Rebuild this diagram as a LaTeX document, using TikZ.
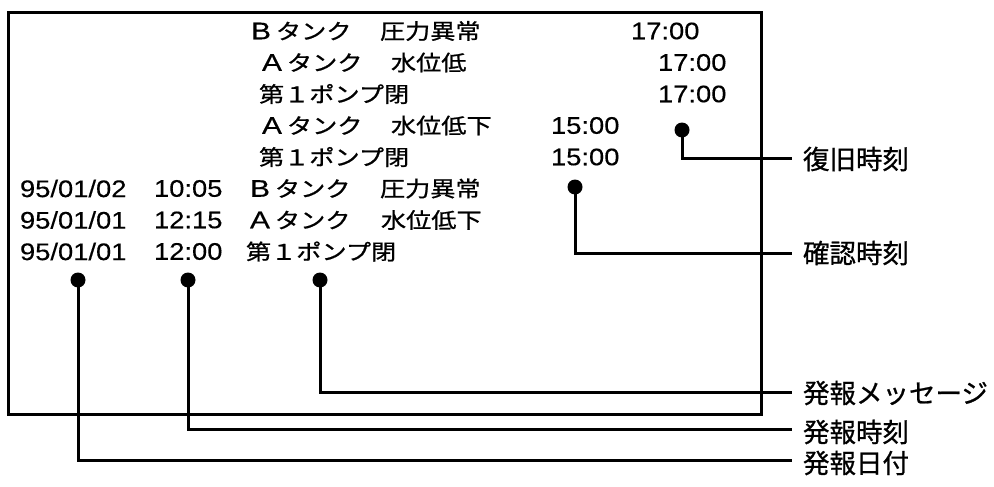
\documentclass[tikz,border=0pt]{standalone}
\usepackage{fontspec}
\usepackage{graphicx}
\newfontfamily\jboxfont[FakeBold=0.8]{Noto Sans CJK JP}
\newfontfamily\jlabfont[FakeBold=0.8]{Noto Sans CJK JP}
\newfontfamily\numfont[FakeBold=0.25]{Liberation Sans}
\newcommand\BJ[1]{\scalebox{1.17}[1]{\fontsize{21.5}{25}\jboxfont #1}}
\newcommand\BN[1]{\scalebox{1.14}[1]{\fontsize{24}{28}\numfont #1}}
\newcommand\BL[1]{\scalebox{1.25}[1]{\fontsize{24}{28}\numfont #1}}
\newcommand\LJ[1]{{\fontsize{26.5}{30}\jlabfont #1}}
\begin{document}
\begin{tikzpicture}[x=1pt,y=-1pt,
  txt/.style={inner sep=0pt,outer sep=0pt,anchor=west},
  ctxt/.style={inner sep=0pt,outer sep=0pt,anchor=center},
  dotmark/.style={circle,fill=black,inner sep=0pt,outer sep=0pt,minimum size=15pt},
  lead/.style={line width=3pt},
  lab/.style={inner sep=0pt,outer sep=0pt,anchor=west}]
\useasboundingbox (0,0) rectangle (994,487);
\node[draw,line width=3pt,inner sep=0pt,outer sep=0pt,anchor=north west,
  minimum width=752.5pt,minimum height=401.5pt] (screen) at (8.5,12.5) {};
% row 1
\node[ctxt] (r1a) at (261,31) {\BL{B}};
\node[txt] (r1b) at (276,31) {\BJ{タンク}};
\node[txt] (r1c) at (380,31) {\BJ{圧力異常}};
\node[txt] (r1d) at (631,31) {\BN{17:00}};
% row 2
\node[ctxt] (r2a) at (272,62.5) {\BL{A}};
\node[txt] (r2b) at (287,62.5) {\BJ{タンク}};
\node[txt] (r2c) at (391,62.5) {\BJ{水位低}};
\node[txt] (r2d) at (658,62.5) {\BN{17:00}};
% row 3
\node[txt] (r3a) at (259,94) {\BJ{第１ポンプ閉}};
\node[txt] (r3d) at (658,94) {\BN{17:00}};
% row 4
\node[ctxt] (r4a) at (272,125.5) {\BL{A}};
\node[txt] (r4b) at (287,125.5) {\BJ{タンク}};
\node[txt] (r4c) at (391,125.5) {\BJ{水位低下}};
\node[txt] (r4d) at (551,125.5) {\BN{15:00}};
% row 5
\node[txt] (r5a) at (259,157) {\BJ{第１ポンプ閉}};
\node[txt] (r5d) at (551,157) {\BN{15:00}};
% row 6
\node[txt] (r6x) at (20,188.5) {\BN{95/01/02}};
\node[txt] (r6y) at (154,188.5) {\BN{10:05}};
\node[ctxt] (r6a) at (260,188.5) {\BL{B}};
\node[txt] (r6b) at (275,188.5) {\BJ{タンク}};
\node[txt] (r6c) at (380,188.5) {\BJ{圧力異常}};
% row 7
\node[txt] (r7x) at (20,220) {\BN{95/01/01}};
\node[txt] (r7y) at (154,220) {\BN{12:15}};
\node[ctxt] (r7a) at (260,220) {\BL{A}};
\node[txt] (r7b) at (275,220) {\BJ{タンク}};
\node[txt] (r7c) at (381,220) {\BJ{水位低下}};
% row 8
\node[txt] (r8x) at (20,251.5) {\BN{95/01/01}};
\node[txt] (r8y) at (154,251.5) {\BN{12:00}};
\node[txt] (r8a) at (246,251.5) {\BJ{第１ポンプ閉}};
% dots
\node[dotmark] (dRec) at (682,130) {};
\node[dotmark] (dConf) at (575,187) {};
\node[dotmark] (dMsg) at (320,280) {};
\node[dotmark] (dTime) at (188,280) {};
\node[dotmark] (dDate) at (78,280) {};
% line ends
\coordinate (eRec) at (792,158);
\coordinate (eConf) at (792,253);
\coordinate (eMsg) at (792,392);
\coordinate (eTime) at (792,429);
\coordinate (eDate) at (792,460);
% leaders
\draw[lead] (dRec.center) |- (eRec);
\draw[lead] (dConf.center) |- (eConf);
\draw[lead] (dMsg.center) |- (eMsg);
\draw[lead] (dTime.center) |- (eTime);
\draw[lead] (dDate.center) |- (eDate);
% labels
\node[lab] (lRec) at (803,159) {\LJ{復旧時刻}};
\node[lab] (lConf) at (803,253) {\LJ{確認時刻}};
\node[lab] (lMsg) at (803,393) {\LJ{発報メッセージ}};
\node[lab] (lTime) at (803,432) {\LJ{発報時刻}};
\node[lab] (lDate) at (803,463) {\LJ{発報日付}};
\end{tikzpicture}
\end{document}
